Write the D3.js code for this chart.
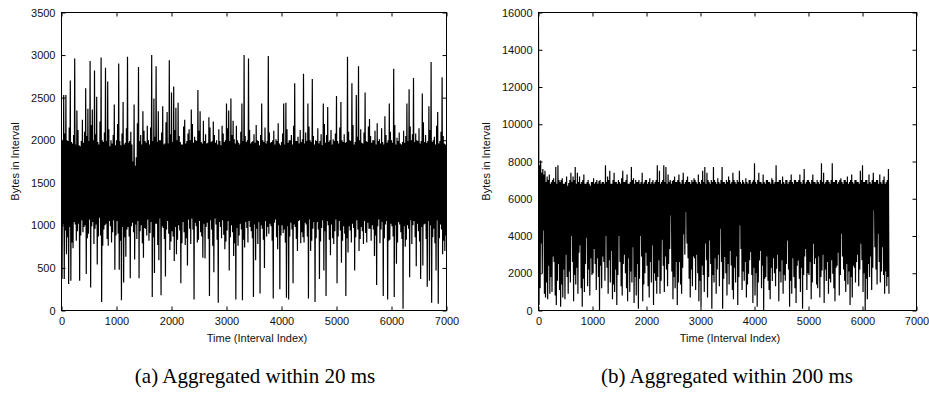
<!DOCTYPE html>
<html>
<head>
<meta charset="utf-8">
<script src="https://cdnjs.cloudflare.com/ajax/libs/d3/7.8.5/d3.min.js"></script>
<style>
  body { margin: 0; background: #fff; }
  svg { display: block; }
  .tick text { font-family: "Liberation Sans", Arial, sans-serif; font-size: 11px; fill: #111; }
  .axis-label { font-family: "Liberation Sans", Arial, sans-serif; font-size: 11px; fill: #111; }
  .caption { font-family: "Liberation Serif", "Times New Roman", serif; font-size: 21px; fill: #000; }
</style>
</head>
<body>
<svg id="chart" width="929" height="394"></svg>
<script>
// (a) bytes per 20 ms interval, one reading every 10 interval indices
const bytesA = [
  1880, 370, 1990, 1010, 2530, 370, 2080, 940, 2530, 660, 2000, 860, 1990, 310, 2150, 980, 2700, 350, 1980, 800,
  1960, 730, 2060, 1040, 2960, 1010, 1950, 820, 2350, 930, 2120, 1020, 1940, 350, 1930, 880, 1990, 1060, 2240, 920,
  1970, 980, 2100, 1000, 2610, 430, 2050, 850, 2370, 900, 1990, 1070, 2930, 270, 2180, 990, 2360, 1040, 2000, 780,
  2820, 960, 2070, 1010, 2510, 540, 1980, 870, 1950, 1090, 2220, 880, 2970, 100, 2000, 760, 1980, 950, 2090, 1000,
  2850, 1020, 1990, 840, 2690, 760, 2130, 1050, 1930, 990, 2000, 800, 1960, 920, 2060, 1060, 2420, 480, 1940, 880,
  2000, 1050, 2190, 900, 2900, 480, 1990, 820, 1940, 120, 2080, 980, 2450, 330, 1950, 860, 1970, 630, 2140, 950,
  2980, 980, 1970, 870, 1990, 380, 2100, 990, 1950, 1030, 1750, 920, 2420, 600, 1700, 1010, 1800, 840, 2200, 1050,
  2860, 380, 1990, 930, 2060, 1000, 1950, 790, 2340, 620, 2110, 970, 1990, 960, 1970, 880, 2170, 1070, 2000, 820,
  1950, 910, 2150, 1040, 3000, 160, 1990, 860, 2490, 440, 2040, 1020, 2870, 1020, 1980, 770, 2340, 590, 2000, 1080,
  2000, 180, 2090, 990, 2400, 970, 1950, 840, 1960, 400, 2210, 950, 2330, 1050, 1960, 900, 2940, 710, 2070, 810,
  2560, 930, 1980, 870, 2630, 580, 2120, 980, 2380, 660, 2000, 830, 2440, 1000, 2050, 940, 1980, 320, 1950, 790,
  1950, 1040, 2160, 920, 2240, 770, 1960, 850, 1990, 530, 2080, 1070, 2130, 960, 2000, 780, 2360, 1080, 2190, 950,
  1970, 130, 2040, 1030, 2000, 990, 1990, 800, 2590, 830, 2110, 1050, 2340, 920, 1980, 870, 1960, 620, 2230, 1020,
  1990, 610, 2070, 980, 1960, 1030, 1970, 840, 2270, 170, 2150, 1060, 1980, 950, 1990, 760, 2220, 450, 2060, 1080,
  1970, 1010, 2000, 830, 1950, 90, 2130, 1040, 1990, 980, 1940, 850, 2170, 1060, 2080, 890, 1980, 720, 2000, 810,
  2430, 940, 2140, 1050, 2350, 470, 1990, 860, 2490, 1000, 2060, 920, 2230, 640, 2010, 790, 1960, 130, 2170, 970,
  2000, 760, 1970, 880, 1950, 1020, 2100, 950, 2430, 120, 1990, 830, 3000, 740, 2050, 1040, 1980, 970, 2000, 800,
  2960, 1050, 2120, 980, 1960, 930, 1980, 850, 1990, 160, 2070, 1010, 1970, 590, 2180, 960, 2000, 780, 1990, 1040,
  1940, 200, 2060, 1000, 2430, 960, 2000, 830, 1980, 500, 2150, 1050, 1960, 870, 1990, 980, 2990, 900, 2090, 1020,
  1970, 990, 1980, 820, 2000, 140, 2110, 1030, 1950, 1070, 2010, 860, 1990, 720, 2200, 1000, 1960, 250, 1940, 880,
  1980, 1000, 2080, 910, 2430, 950, 1950, 800, 2440, 150, 2130, 990, 1970, 130, 2000, 870, 2000, 1030, 2060, 950,
  1950, 320, 2170, 1010, 2670, 980, 1990, 840, 1990, 700, 2040, 1050, 1960, 1060, 2120, 790, 1980, 920, 2010, 860,
  2780, 800, 1960, 1030, 2090, 1010, 1990, 870, 2430, 140, 2160, 1070, 2000, 700, 1980, 820, 2720, 960, 2050, 1040,
  1950, 100, 2000, 850, 1990, 1040, 2140, 950, 1960, 370, 1990, 810, 2070, 970, 1940, 1060, 2430, 470, 2190, 930,
  1970, 170, 2060, 1050, 2390, 1000, 1980, 830, 2000, 650, 2120, 1010, 1950, 850, 2010, 780, 1990, 930, 2080, 1070,
  2520, 320, 1990, 870, 1960, 1050, 2150, 940, 2450, 560, 2000, 820, 1980, 990, 2070, 900, 1970, 170, 1980, 850,
  2980, 680, 2100, 990, 2000, 940, 1990, 800, 2670, 1020, 2180, 970, 1950, 470, 1980, 860, 2530, 1060, 2040, 950,
  2870, 700, 2000, 840, 2130, 980, 1970, 930, 1960, 780, 2090, 1050, 2560, 910, 1990, 800, 1980, 1030, 2160, 960,
  2250, 960, 2050, 820, 1970, 1000, 2000, 950, 2000, 640, 2110, 880, 1950, 300, 2200, 990, 1990, 1070, 2010, 790,
  1960, 950, 2140, 1040, 1980, 170, 1950, 850, 2280, 1010, 2060, 1050, 1970, 130, 2000, 820, 2430, 830, 2100, 1020,
  2000, 990, 1970, 870, 2840, 160, 2180, 1000, 1950, 550, 2030, 800, 1990, 1040, 2090, 1010, 1960, 920, 1950, 840,
  1980, 20, 2110, 990, 1970, 750, 2050, 830, 2430, 1000, 1990, 960, 2600, 390, 2160, 1060, 2000, 780, 2070, 1000,
  2730, 1050, 1980, 860, 2080, 520, 2000, 1020, 1990, 930, 2140, 810, 1960, 370, 1990, 980, 2550, 530, 2210, 1010,
  1980, 1020, 2060, 840, 1970, 280, 1990, 1050, 2400, 350, 2120, 1000, 2920, 90, 1980, 860, 2000, 960, 2040, 790,
  1950, 470, 2170, 1060, 2330, 80, 1960, 850, 1990, 1010, 2100, 950, 2740, 660, 2050, 820, 1960, 700, 1950, 880,
  1880
];
const stepA = 10;

// (b) bytes per 200 ms interval, one reading every 10 interval indices
const bytesB = [
  15300, 300, 7800, 1200, 8060, 3600, 7400, 2000, 7600, 4300, 7300, 900, 7500, 700, 6900, 1500, 7200, 600, 7000, 2400,
  7300, 900, 6800, 1800, 6900, 1000, 7000, 2900, 7100, 2600, 6900, 800, 7700, 300, 6800, 1600, 7800, 2500, 7000, 1100,
  6900, 200, 7000, 1400, 7100, 700, 6800, 2200, 6800, 600, 6900, 3000, 7200, 1800, 6700, 900, 6850, 2100, 7000, 1500,
  7400, 4000, 6900, 2600, 7200, 500, 7000, 1900, 7700, 1400, 6800, 2300, 7400, 900, 6900, 3100, 7200, 3500, 6800, 1200,
  6900, 200, 7000, 1700, 7300, 1000, 6800, 2500, 6800, 3900, 6900, 1300, 7000, 2200, 6800, 800, 6700, 2800, 6900, 1900,
  6900, 2000, 7100, 3300, 6800, 2500, 6900, 1100, 7000, 2800, 6800, 1800, 6950, 0, 7000, 2400, 6800, 1200, 6900, 2900,
  6900, 2600, 6800, 1600, 7800, 4000, 6900, 2300, 7200, 900, 7000, 2700, 7500, 1500, 6800, 3200, 6800, 600, 7000, 1400,
  7400, 1000, 6900, 2200, 6900, 300, 6800, 1900, 7000, 4000, 6900, 2600, 6800, 1300, 7100, 800, 7500, 2500, 6900, 3000,
  6900, 2000, 7000, 1200, 7300, 500, 6800, 2800, 6800, 1000, 6900, 2100, 7700, 1500, 7000, 3400, 7100, 400, 6800, 1800,
  7000, 800, 6900, 2500, 6900, 100, 7000, 1700, 6800, 4000, 6900, 2900, 7400, 500, 6800, 1400, 6900, 2000, 7000, 3100,
  7000, 2400, 6800, 1300, 6900, 700, 7100, 2600, 6800, 1500, 6900, 3500, 7000, 300, 6800, 2000, 6900, 1600, 7000, 900,
  7800, 1800, 6900, 2700, 7500, 900, 6800, 1600, 6900, 3800, 7000, 2400, 7800, 1000, 6900, 2900, 7700, 2200, 6800, 1300,
  7300, 2500, 6900, 3300, 7000, 5100, 6800, 2100, 6950, 600, 7000, 1800, 7200, 1200, 6900, 2600, 6900, 300, 7000, 1500,
  7300, 2600, 6900, 1400, 6800, 900, 7000, 2300, 7400, 4100, 6800, 3000, 6900, 5300, 7000, 3600, 7200, 2800, 6900, 1700,
  6900, 700, 6800, 2200, 7000, 1300, 6900, 2900, 7100, 2800, 7000, 1100, 6900, 3000, 6800, 2000, 7300, 500, 6900, 1600,
  6800, 200, 7000, 2400, 7500, 1900, 6900, 1000, 7700, 3600, 6800, 2700, 7400, 700, 7000, 1800, 6900, 3760, 6800, 2500,
  7000, 100, 6900, 1900, 7700, 1500, 7000, 2800, 6900, 900, 6800, 2200, 7100, 3000, 6900, 1300, 6800, 4390, 7000, 2600,
  7700, 100, 6900, 1700, 6900, 2870, 6800, 2000, 7000, 800, 6900, 2500, 7200, 1400, 7000, 3200, 6800, 2420, 6900, 1100,
  7400, 600, 7000, 2300, 6900, 1500, 6800, 2900, 7000, 300, 6900, 1800, 7500, 4570, 6900, 3300, 6800, 1100, 7000, 2100,
  6900, 1600, 6800, 2600, 7100, 700, 6900, 1400, 6800, 1970, 7000, 2700, 7000, 3140, 6800, 1900, 6900, 400, 7000, 2300,
  7900, 800, 6900, 2000, 6800, 200, 7000, 1500, 7400, 2690, 6900, 3200, 6900, 1200, 6800, 2400, 7300, 0, 6900, 1700,
  6800, 1800, 7000, 2900, 7000, 1600, 6900, 1100, 6900, 600, 6800, 2300, 7100, 1580, 7000, 2800, 6800, 2000, 6900, 1300,
  7800, 2240, 6900, 3000, 6900, 500, 7000, 2100, 7000, 1500, 6800, 2700, 7200, 900, 6900, 1900, 6800, 1600, 7000, 2500,
  7000, 3760, 6800, 2200, 6900, 200, 7000, 1600, 7300, 900, 6900, 2800, 6800, 1800, 7000, 1200, 7000, 400, 6900, 2400,
  6900, 2690, 7000, 1700, 7300, 1000, 6900, 2300, 6800, 100, 7000, 1900, 7600, 2900, 6800, 3300, 6900, 1100, 7000, 2000,
  7000, 1900, 6900, 2600, 6800, 600, 7000, 1500, 7300, 3580, 6900, 2500, 6900, 2800, 6800, 1400, 7000, 1200, 6900, 2900,
  6800, 700, 7000, 1800, 7900, 2150, 6900, 3000, 7400, 400, 6800, 2200, 6900, 1590, 7000, 2600, 7000, 900, 6900, 1700,
  6800, 1500, 7000, 2700, 7900, 1970, 6900, 1200, 6900, 500, 7000, 2300, 7000, 2400, 6800, 3100, 6900, 800, 7000, 1900,
  7100, 4120, 6900, 2900, 6800, 2200, 7000, 1600, 7000, 1000, 6900, 2500, 7200, 1400, 6800, 2100, 6900, 300, 7000, 1800,
  7300, 700, 6900, 2400, 6800, 2300, 7000, 1500, 7000, 2600, 6900, 3000, 6900, 1300, 6800, 2200, 7500, 3580, 7000, 2700,
  7800, 1000, 6900, 2000, 6900, 0, 7000, 1700, 7000, 600, 6800, 2500, 7300, 1800, 6900, 2900, 6800, 1100, 7000, 2300,
  7400, 5380, 6900, 3400, 6900, 2200, 7000, 1400, 7000, 4120, 6800, 2600, 7300, 1500, 6900, 2100, 6800, 3400, 7000, 1900,
  7200, 900, 6800, 2100, 6900, 1300, 7000, 1800, 7600, 900
];
const stepB = 10;

const xTicks = [0, 1000, 2000, 3000, 4000, 5000, 6000, 7000];
const yTicksA = [0, 500, 1000, 1500, 2000, 2500, 3000, 3500];
const yTicksB = [0, 2000, 4000, 6000, 8000, 10000, 12000, 14000, 16000];
const captions = ['(a) Aggregated within 20 ms', '(b) Aggregated within 200 ms'];
const X_LABEL = 'Time (Interval Index)';
const Y_LABEL = 'Bytes in Interval';

const TICK = 4;
const fmt = d3.format('d');

const createScales = (box, xMax, yMax) => {
  const xScale = d3.scaleLinear().domain([0, xMax]).range([box.left, box.right]);
  const yScale = d3.scaleLinear().domain([0, yMax]).range([box.bottom, box.top]);
  return { xScale, yScale };
};

const renderSeries = (svg, id, box, values, step, xScale, yScale) => {
  svg.append('clipPath')
    .attr('id', id)
    .append('rect')
    .attr('x', box.left)
    .attr('y', box.top)
    .attr('width', box.right - box.left)
    .attr('height', box.bottom - box.top);

  const line = d3.line()
    .x((d, i) => xScale(i * step))
    .y(d => yScale(d));

  svg.append('path')
    .datum(values)
    .attr('clip-path', `url(#${id})`)
    .attr('d', line)
    .attr('fill', 'none')
    .attr('stroke', '#000')
    .attr('stroke-width', 1.2)
    .attr('stroke-linejoin', 'bevel');
};

const renderAxes = (svg, box, xScale, yScale, yTicks) => {
  // labelled axes, ticks pointing into the plot
  svg.append('g')
    .attr('transform', `translate(0, ${box.bottom})`)
    .call(d3.axisBottom(xScale).tickValues(xTicks).tickFormat(fmt).tickSize(-TICK).tickSizeOuter(0).tickPadding(7))
    .call(g => g.select('.domain').remove());

  svg.append('g')
    .attr('transform', `translate(${box.left}, 0)`)
    .call(d3.axisLeft(yScale).tickValues(yTicks).tickFormat(fmt).tickSize(-TICK).tickSizeOuter(0).tickPadding(6))
    .call(g => g.select('.domain').remove());

  // mirrored ticks on top and right
  svg.append('g')
    .attr('transform', `translate(0, ${box.top})`)
    .call(d3.axisTop(xScale).tickValues(xTicks).tickSize(-TICK).tickSizeOuter(0).tickFormat(''))
    .call(g => g.select('.domain').remove());

  svg.append('g')
    .attr('transform', `translate(${box.right}, 0)`)
    .call(d3.axisRight(yScale).tickValues(yTicks).tickSize(-TICK).tickSizeOuter(0).tickFormat(''))
    .call(g => g.select('.domain').remove());

  svg.selectAll('.tick line').attr('stroke', '#000');

  svg.append('rect')
    .attr('x', box.left)
    .attr('y', box.top)
    .attr('width', box.right - box.left)
    .attr('height', box.bottom - box.top)
    .attr('fill', 'none')
    .attr('stroke', '#000')
    .attr('stroke-width', 1);
};

const renderLabels = (svg, box, caption) => {
  svg.append('text')
    .attr('class', 'axis-label')
    .attr('x', box.xLabelX)
    .attr('y', 341.5)
    .attr('text-anchor', 'middle')
    .text(X_LABEL);

  svg.append('text')
    .attr('class', 'axis-label')
    .attr('transform', `translate(${box.yLabelX}, ${(box.top + box.bottom) / 2}) rotate(-90)`)
    .attr('text-anchor', 'middle')
    .text(Y_LABEL);

  svg.append('text')
    .attr('class', 'caption')
    .attr('x', box.captionX)
    .attr('y', 383)
    .attr('text-anchor', 'middle')
    .text(caption);
};

const svg = d3.select('#chart');

const panels = [
  { id: 'clipA', values: bytesA, step: stepA, yTicks: yTicksA, yMax: 3500, caption: captions[0],
    box: { left: 61.5, right: 446.5, top: 12.5, bottom: 310.5, yLabelX: 19, xLabelX: 257, captionX: 255 } },
  { id: 'clipB', values: bytesB, step: stepB, yTicks: yTicksB, yMax: 16000, caption: captions[1],
    box: { left: 538.5, right: 916.5, top: 12.5, bottom: 310.5, yLabelX: 490, xLabelX: 730, captionX: 727 } }
];

panels.forEach(p => {
  const { xScale, yScale } = createScales(p.box, 7000, p.yMax);
  renderSeries(svg, p.id, p.box, p.values, p.step, xScale, yScale);
  renderAxes(svg, p.box, xScale, yScale, p.yTicks);
  renderLabels(svg, p.box, p.caption);
});
</script>
</body>
</html>
